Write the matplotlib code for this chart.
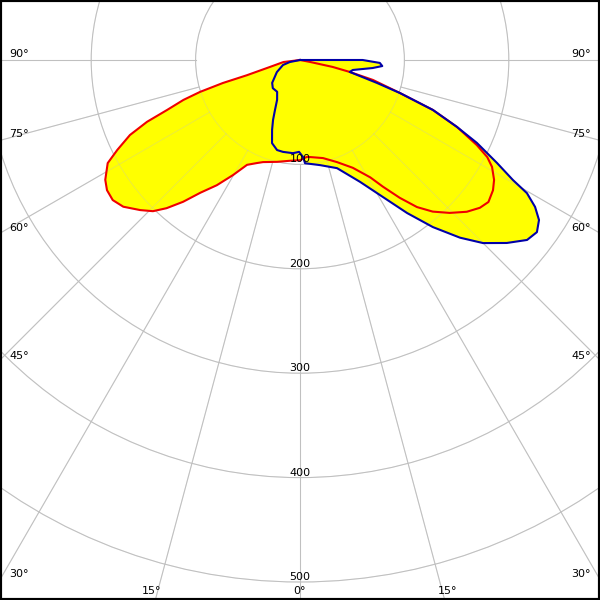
import matplotlib
matplotlib.use("Agg")
import matplotlib.pyplot as plt
import numpy as np
from matplotlib.patches import Circle, Rectangle

# C0-C180 plane (red), gamma in degrees (negative = left side), intensity in cd
red_gamma = [-180, -83, -77, -74, -73.4, -72.3, -71.1, -69.4, -68, -66.2, -63.8, -61.8,
             -58.4, -56, -53.2, -50.3, -46.8, -44.2, -42, -39.5, -36.9, -33.6, -30.2,
             -26.8, -22.7, -19.9, -12.7, -5.7, 0, 4.1, 7.6, 13.2, 19.9, 26.1, 30.9, 33.2,
             35.9, 38.5, 41.2, 44.4, 47.7, 50.6, 53, 56, 58.3, 60.9, 62.6, 64.3, 66.9,
             69.4, 71.7, 74.7, 76.5, 78, 79, 180]
red_cd = [0, 16, 29.5, 53, 77, 100.5, 118, 136, 158, 178, 195, 209,
          219, 223, 224, 220, 210, 202, 191, 176, 159, 144, 127.5,
          112.5, 107, 104, 100, 97, 96, 93, 94, 96.5, 104, 115, 131, 145,
          163, 180, 193, 205, 216, 223, 226, 223, 218.5, 210.5, 202, 188, 163.5,
          136, 101, 72.5, 49, 32, 10, 0]

# C90-C270 plane (blue)
blue_gamma = [-180, -78.7, -73.6, -62.4, -50.6, -44, -35.7, -29.9, -26.6, -24.2, -21.8,
              -18.6, -14.3, -10.5, -4.3, -0.6, 1.8, 2.8, 10.8, 18.9, 26.2, 31.2, 35,
              38.5, 42, 45, 48.5, 51.6, 54, 56.2, 58, 59.6, 60.6, 62.4, 64.9, 66.9,
              69.4, 71.7, 73.4, 76.5, 79.3, 83.7, 85.8, 87.9, 90, 180]
blue_cd = [0, 10, 17, 25, 34.5, 37.5, 37.5, 44, 53.5, 63, 72,
           84, 89, 89.5, 89.5, 88, 93, 99, 102.5, 109.5, 130, 153.5, 179,
           204.5, 229, 248, 264.5, 277.5, 280.5, 275.5, 265.5, 252, 234, 213, 187, 163.5,
           136, 101, 77, 49, 51.5, 70, 79, 76.5, 60, 0]

ring_values = [100, 200, 300, 400, 500, 600]
ring_labels = ["100", "200", "300", "400", "500"]
spoke_angles = [-90, -75, -60, -45, -30, -15, 0, 15, 30, 45, 60, 75, 90]

px_per_cd = 1.044
grid_col = "#c0c0c0"


def to_xy(gamma, cd):
    g = np.radians(gamma)
    cd = np.asarray(cd, dtype=float)
    return cd * np.sin(g), -cd * np.cos(g)


def draw_grid(ax, alpha, z):
    for r in ring_values:
        ax.add_patch(Circle((0, 0), r, fill=False, ec=grid_col, lw=0.75, alpha=alpha, zorder=z))
    for a in spoke_angles:
        x, y = to_xy([a, a], [100, 800])
        ax.plot(x, y, color=grid_col, lw=0.75, alpha=alpha, zorder=z)


fig = plt.figure(figsize=(6, 6), dpi=100)
ax = fig.add_axes([0, 0, 1, 1])
ax.set_xlim(-300 / px_per_cd, 300 / px_per_cd)
ax.set_ylim(-540 / px_per_cd, 60 / px_per_cd)
ax.set_axis_off()

draw_grid(ax, 1.0, 1)

rx, ry = to_xy(red_gamma, red_cd)
bx, by = to_xy(blue_gamma, blue_cd)
ax.fill(rx, ry, color="#ffff00", lw=0, zorder=2)
ax.fill(bx, by, color="#ffff00", lw=0, zorder=2)

draw_grid(ax, 0.3, 3)

ax.plot(rx, ry, color="#f00000", lw=1.5, zorder=4)
ax.plot(bx, by, color="#0000a8", lw=1.5, zorder=4)

for r, lab in zip(ring_values, ring_labels):
    ax.annotate(lab, xy=(0, -r), xytext=(0, 1.5), textcoords="offset points",
                ha="center", va="baseline", fontsize=8, zorder=5)

# angle labels at the picture edges
def ftext(x, y, s, ha):
    fig.text(x / 600, 1 - y / 600, s, ha=ha, va="baseline", fontsize=8)

for s, y in [("90°", 57), ("75°", 137), ("60°", 231), ("45°", 359), ("30°", 577)]:
    ftext(9, y, s, "left")
    ftext(591, y, s, "right")
ftext(152, 594, "15°", "center")
ftext(448, 594, "15°", "center")
ftext(300, 594, "0°", "center")

fig.patches.append(Rectangle((0, 0), 1, 1, transform=fig.transFigure, fill=False,
                             ec="black", lw=3))

fig.savefig("out.png", dpi=100)
